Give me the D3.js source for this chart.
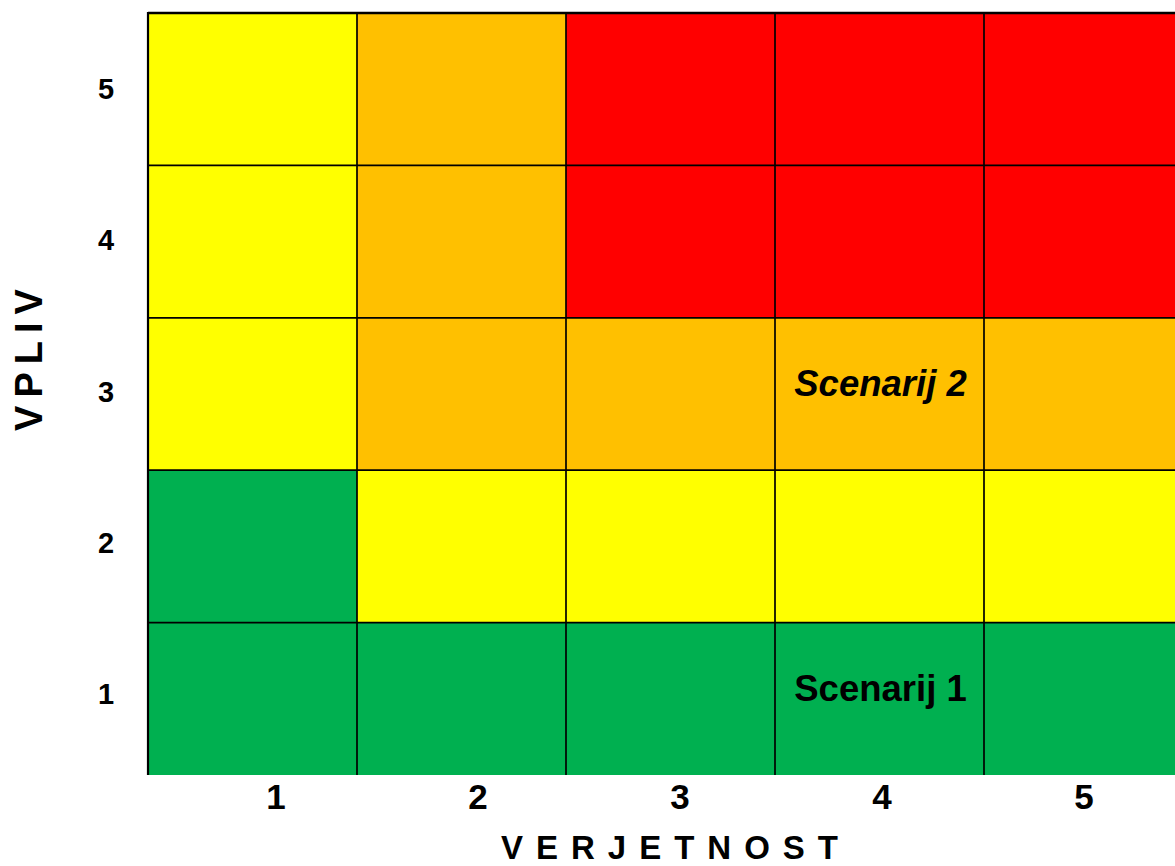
<!DOCTYPE html>
<html>
<head>
<meta charset="utf-8">
<script src="https://cdn.jsdelivr.net/npm/d3@7"></script>
<style>
  html, body { margin: 0; padding: 0; background: #fff; overflow: hidden; }
  svg { display: block; font-family: "Liberation Sans", Arial, sans-serif; }
</style>
</head>
<body>
<script>
// ---- data ----
const probability = [1, 2, 3, 4, 5];          // VERJETNOST (x)
const impact = [1, 2, 3, 4, 5];               // VPLIV (y)
// risk level per impact row (index 0 = impact 1), per probability column
const riskRows = [
  ["low", "low", "low", "low", "low"],                 // impact 1
  ["low", "medium", "medium", "medium", "medium"],     // impact 2
  ["medium", "high", "high", "high", "high"],          // impact 3
  ["medium", "high", "critical", "critical", "critical"], // impact 4
  ["medium", "high", "critical", "critical", "critical"]  // impact 5
];
const levelNames = ["low", "medium", "high", "critical"];
const levelColors = ["#00B050", "#FFFF00", "#FFC000", "#FF0000"];
const scenarioNames = ["Scenarij 1", "Scenarij 2"];
const scenarioProb = [4, 4];
const scenarioImpact = [1, 3];
const scenarioItalic = [false, true];
const xTitle = "VERJETNOST";
const yTitle = "VPLIV";

// ---- drawing ----
const W = 1175, H = 866;
const svg = d3.select("body").append("svg").attr("width", W).attr("height", H);

const x = d3.scaleBand().domain(probability).range([148, 1193]).padding(0);
const y = d3.scaleBand().domain(impact).range([775, 13]).padding(0);
const color = d3.scaleOrdinal().domain(levelNames).range(levelColors);

const cells = [];
impact.forEach((im, i) => probability.forEach((p, j) => cells.push({ p, im, level: riskRows[i][j] })));

svg.append("g").selectAll("rect").data(cells).join("rect")
  .attr("x", d => x(d.p)).attr("y", d => y(d.im))
  .attr("width", x.bandwidth()).attr("height", y.bandwidth())
  .attr("fill", d => color(d.level));

// grid lines
const gl = svg.append("g").attr("stroke", "#000");
gl.selectAll("line.v").data(probability).join("line").attr("class", "v")
  .attr("stroke-width", d => d === 1 ? 2.2 : 1.7)
  .attr("x1", d => x(d)).attr("x2", d => x(d))
  .attr("y1", y.range()[1] - 1).attr("y2", y.range()[0]);
gl.selectAll("line.h").data(impact.slice(1).concat([6])).join("line").attr("class", "h")
  .attr("stroke-width", d => d === 6 ? 2.4 : 1.7)
  .attr("x1", x.range()[0]).attr("x2", x.range()[1])
  .attr("y1", d => d === 6 ? y(5) : y(d) + y.bandwidth())
  .attr("y2", d => d === 6 ? y(5) : y(d) + y.bandwidth());

// scenario labels
svg.append("g").selectAll("text").data(scenarioNames).join("text")
  .attr("x", (d, i) => x(scenarioProb[i]) + x.bandwidth() / 2 + 1)
  .attr("y", (d, i) => y(scenarioImpact[i]) + y.bandwidth() / 2 + 2)
  .attr("text-anchor", "middle")
  .attr("font-size", 36.5).attr("font-weight", "bold")
  .attr("font-style", (d, i) => scenarioItalic[i] ? "italic" : "normal")
  .text(d => d);

// tick label scales (labels are offset from cell centres in the original)
const xt = d3.scalePoint().domain(probability).range([276, 1084]);
const yt = d3.scalePoint().domain(impact).range([704, 99]);

svg.append("g").selectAll("text").data(probability).join("text")
  .attr("x", d => xt(d)).attr("y", 809)
  .attr("text-anchor", "middle").attr("font-size", 35).attr("font-weight", "bold")
  .text(d => d);

svg.append("g").selectAll("text").data(impact).join("text")
  .attr("x", 106).attr("y", d => yt(d))
  .attr("text-anchor", "middle").attr("font-size", 29).attr("font-weight", "bold")
  .text(d => d);

// axis titles
svg.append("text")
  .attr("x", 670 + 6).attr("y", 859)
  .attr("text-anchor", "middle").attr("font-size", 33).attr("font-weight", "bold")
  .attr("letter-spacing", 13)
  .text(xTitle);

svg.append("text")
  .attr("transform", "translate(42," + (352 + 4) + ") rotate(-90)")
  .attr("text-anchor", "middle").attr("font-size", 38).attr("font-weight", "bold")
  .attr("letter-spacing", 8)
  .text(yTitle);
</script>
</body>
</html>
